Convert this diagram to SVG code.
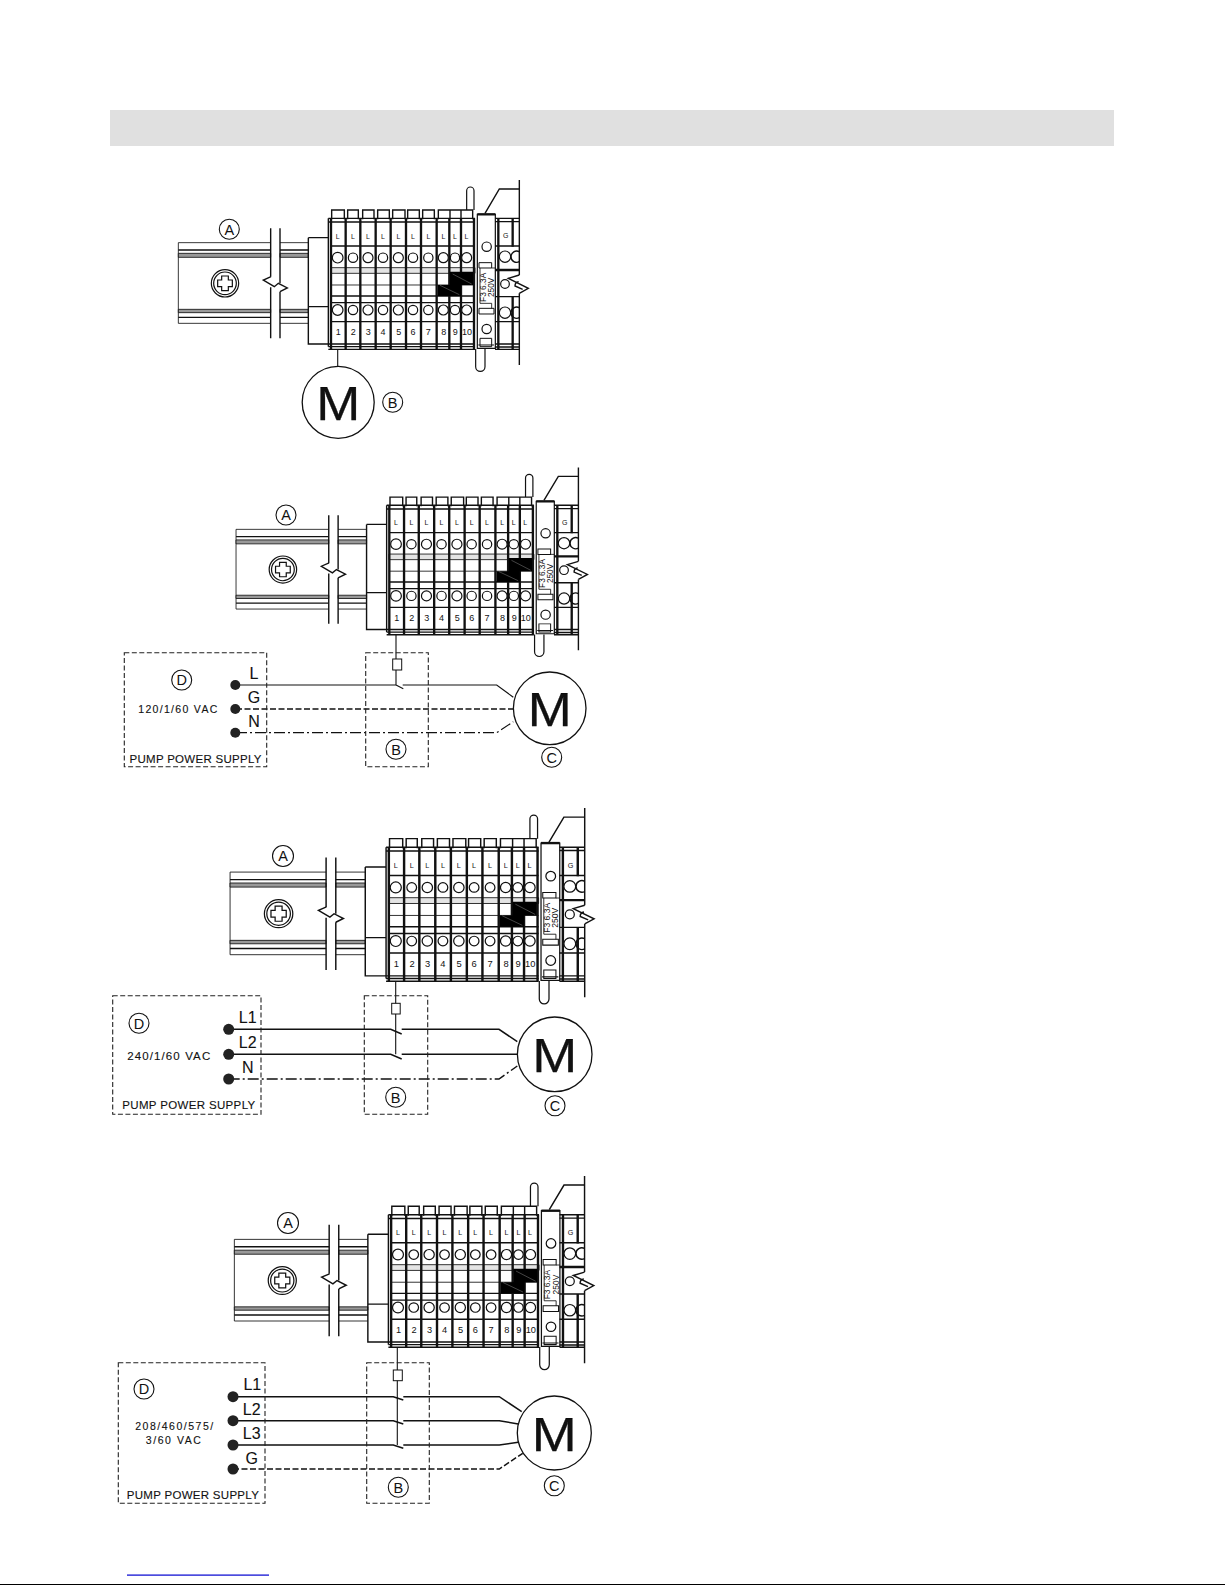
<svg xmlns="http://www.w3.org/2000/svg" xmlns:xlink="http://www.w3.org/1999/xlink" width="1225" height="1585" viewBox="0 0 1225 1585">
<style>
text{font-family:"Liberation Sans",Arial,sans-serif;fill:#111;text-anchor:middle}
.z{fill:none;stroke:#111}
.t{stroke-width:2.5}.m{stroke-width:4.2}.h{stroke-width:7}
.w{fill:#fff;stroke:#111;stroke-width:3.6}
.w2{fill:#fff;stroke:#111;stroke-width:3}
.wire{fill:none;stroke:#111;stroke-width:1.2}
.hv{stroke-width:1.5}
.dash{stroke-dasharray:6 2.5}
.dd{stroke-dasharray:11 3 2 3}
.box{fill:none;stroke:#222;stroke-width:1.1;stroke-dasharray:5 2.5}
.tm{fill:#222;stroke:none}
.mot{fill:#fff;stroke:#111;stroke-width:1.3}
.cl{fill:none;stroke:#111;stroke-width:1.1}
.lb{font-size:14.5px}
.ph{font-size:16px;stroke:#111;stroke-width:.1}
.v{font-size:10.5px;stroke:#111;stroke-width:.12}
.P{font-size:11.5px;stroke:#111;stroke-width:.12}
.M{font-size:48px;stroke:#000;stroke-width:.25}
</style>
<defs>
<g id="terminal-block" transform="translate(170,170) scale(.33333)">
<!-- rail -->
<path class="z t" d="M25,218V460M25,218H302M330,218H415M25,460H302M330,460H415"/>
<path class="z m" d="M25,240H302M330,240H415M25,442H302M330,442H415"/>
<path d="M25,250H302V262H25ZM330,250H415V262H330ZM25,418H302V428H25ZM330,418H415V428H330Z" fill="#999" stroke="#111" stroke-width="2.5"/>
<path class="z m" d="M302,175V320M302,352V505M330,175V340M330,365V505"/>
<path class="z m" d="M303,320L280,330L313,350L325,340L352,354L330,365"/>
<circle cx="165" cy="340" r="41" class="w"/><circle cx="165" cy="340" r="34" class="w"/>
<path class="w" d="M155,318H175V330H187V350H175V362H155V350H143V330H155Z"/>
<!-- end bracket -->
<path class="z m" d="M415,203H475M415,203V522H475M415,410H475"/>
<!-- top/bottom pins -->
<path class="w" d="M890,120V62A11,11 0 0 1 912,62V120"/>
<path class="w" d="M917,537V590A14,14 0 0 0 945,590V537"/>
<!-- body -->
<rect x="475" y="145" width="440" height="392" fill="#fff"/>
<path class="z m" d="M485,148V120H523V148M533,148V120H565V148M578,148V120H612V148M623,148V120H658V148M668,148V120H705V148M713,148V120H748V148M758,148V120H793V148M805,148V120H908V148M840,120V148M873,120V148"/>
<path class="z m" d="M475,145H915M475,156H915M482,228H915M482,378H915M482,398H915M482,455H915M475,522H915M475,530H915M475,538H915"/>
<path d="M482,293H915V310H482Z" fill="#e4e4e4" stroke="#111" stroke-width="2.5"/>
<path class="z t" d="M482,345H915"/>
<path class="z m" d="M475,145V530"/>
<path class="z h" d="M483,145V538M527,145V538M571,145V538M617,145V538M662,145V538M708,145V538M753,145V538M800,145V538M838,145V538M873,145V538M912,145V538"/>
<g class="w">
<circle cx="503" cy="263" r="16"/><circle cx="549" cy="263" r="14"/><circle cx="594" cy="263" r="15"/><circle cx="639" cy="263" r="14"/><circle cx="685" cy="263" r="15"/><circle cx="729" cy="263" r="14"/><circle cx="775" cy="263" r="14"/><circle cx="820" cy="263" r="15"/><circle cx="855" cy="263" r="14"/><circle cx="890" cy="263" r="15"/>
<circle cx="503" cy="420" r="16"/><circle cx="549" cy="420" r="14"/><circle cx="594" cy="420" r="15"/><circle cx="639" cy="420" r="14"/><circle cx="685" cy="420" r="15"/><circle cx="729" cy="420" r="14"/><circle cx="775" cy="420" r="14"/><circle cx="820" cy="420" r="15"/><circle cx="855" cy="420" r="14"/><circle cx="890" cy="420" r="15"/>
</g>
<!-- jumper -->
<path d="M840,305H910V345H873V378H803V345H840Z" fill="#000"/>
<path d="M848,312L905,342M810,346L868,374" stroke="#888" stroke-width="1.5" fill="none"/>
<g font-size="21">
<text x="503" y="206">L</text><text x="549" y="206">L</text><text x="594" y="206">L</text><text x="639" y="206">L</text><text x="685" y="206">L</text><text x="729" y="206">L</text><text x="775" y="206">L</text><text x="820" y="206">L</text><text x="855" y="206">L</text><text x="889" y="206">L</text><text x="1007" y="205">G</text>
</g>
<g font-size="27">
<text x="505" y="495">1</text><text x="550" y="495">2</text><text x="595" y="495">3</text><text x="639" y="495">4</text><text x="686" y="495">5</text><text x="729" y="495">6</text><text x="775" y="495">7</text><text x="821" y="495">8</text><text x="856" y="495">9</text><text x="891" y="495">10</text>
</g>
<!-- fuse module -->
<path class="z m" d="M945,130L988,57H1048"/>
<path class="w" d="M922,133H976V535H922Z"/>
<path class="z h" d="M922,133H976"/>
<circle cx="950" cy="230" r="14" class="w"/><circle cx="950" cy="477" r="14" class="w"/>
<path class="w2" d="M927,278H965V294H927ZM927,415H972V432H927Z"/>
<path class="z t" d="M930,294V400H965V415M965,294H976"/>
<text font-size="25" transform="translate(948,352) rotate(-90)">F3 6.3A</text>
<text font-size="25" transform="translate(972,352) rotate(-90)">250V</text>
<path class="w2" d="M930,505H965V530H930ZM925,525H972"/>
<!-- adjacent terminal -->
<path class="z m" d="M975,145H1048M975,155H1048M975,228H1048M975,380H1048M975,455H1048M975,522H1048M975,531H1048M975,538H1048"/>
<path class="z h" d="M975,300H1048M985,145V538M1028,145V230M1028,380V538"/>
<path class="z m" d="M1048,30V315M1048,370V585"/>
<circle cx="1005" cy="260" r="17" class="w"/><circle cx="1005" cy="428" r="17" class="w"/><circle cx="1005" cy="342" r="13" class="w"/>
<path class="z m" d="M1048,245A17,17 0 1 0 1048,275M1048,413A17,17 0 1 0 1048,443M1046,335A13,13 0 0 0 1035,348L1058,358"/>
<path class="z m" d="M1048,315L1015,325L1075,355L1048,370"/>
</g>
</defs>
<rect width="1225" height="1585" fill="#fff"/>
<rect id="header-band" x="110" y="110" width="1004" height="36" fill="#e0e0e0"/>
<rect id="footer-link" x="127" y="1574.5" width="142" height="1.2" fill="#0000d0"/>
<rect id="footer-rule" x="0" y="1584" width="1225" height="1.5" fill="#000"/>

<g id="connectors">
<path class="cl" d="M337.7,349V367"/>
<!-- panel 2 -->
<path class="cl" d="M396,634V685M396,685L403.3,688.7"/>
<path class="wire" d="M236,685H396M402.7,685H496.7L513.3,697.3"/>
<path class="wire hv dash" d="M236,709H513.3"/>
<path class="wire dd" d="M236,732.7H496.7L513.3,721.7"/>
<!-- panel 3 -->
<path class="cl" d="M395.7,981V1054.3"/>
<path class="wire hv" d="M228.7,1029.3H390.7L401.7,1034M401.7,1029.3H499L517.3,1041.7M228.7,1054.3H390.7L401.7,1059M401.7,1054.3H517.3"/>
<path class="wire hv dd" d="M228.7,1079H499L517.3,1066"/>
<!-- panel 4 -->
<path class="cl" d="M397.3,1346V1445"/>
<path class="wire hv" d="M233,1396.7H393.3L403.3,1400M403.3,1396.7H499.3L521.7,1411.7M233,1420.7H393.3L403.3,1424M403.3,1420.7H499.3L518.3,1424M233,1445H393.3L403.3,1448.3M403.3,1445H499.3L518.3,1442.3"/>
<path class="wire hv dash" d="M233,1469H499.3L522.7,1453.3"/>
</g>

<g id="panel-1">
<use href="#terminal-block" xlink:href="#terminal-block"/>
<g id="p1-motor"><circle class="mot" cx="338.2" cy="402.3" r="36"/><text class="M" x="338.2" y="419.5" textLength="44" lengthAdjust="spacingAndGlyphs">M</text></g>
<g id="p1-A"><circle class="cl" cx="229.3" cy="229.3" r="10"/><text class="lb" x="229.3" y="234.5">A</text></g>
<g id="p1-B"><circle class="cl" cx="392.7" cy="402.3" r="10"/><text class="lb" x="392.7" y="407.5">B</text></g>
</g>

<g id="panel-2">
<use href="#terminal-block" xlink:href="#terminal-block" transform="matrix(1.004 0 0 .988 57 289.6)"/>
<g id="p2-A"><circle class="cl" cx="286" cy="515" r="10"/><text class="lb" x="286" y="520.2">A</text></g>
<g id="p2-supply">
<rect class="box" x="124.3" y="652.7" width="142.4" height="114"/>
<circle class="tm" cx="235.3" cy="685" r="5"/><circle class="tm" cx="235.3" cy="709" r="5"/><circle class="tm" cx="235.3" cy="732.7" r="5"/>
<text class="ph" x="254" y="679">L</text><text class="ph" x="254" y="702.7">G</text><text class="ph" x="254" y="727.3">N</text>
<circle class="cl" cx="181.7" cy="680" r="10"/><text class="lb" x="181.7" y="685.2">D</text>
<text class="v" x="177.8" y="713.3" textLength="79">120/1/60 VAC</text>
<text class="P" x="195.5" y="762.7" textLength="132">PUMP POWER SUPPLY</text>
</g>
<g id="p2-switch">
<rect class="box" x="365.7" y="652.7" width="62.6" height="114"/>
<rect x="392.7" y="659" width="9" height="11" fill="#fff" stroke="#111"/>
<circle class="cl" cx="396" cy="749.3" r="10"/><text class="lb" x="396" y="754.5">B</text>
</g>
<g id="p2-motor"><circle class="mot" cx="549.7" cy="708.3" r="36.3"/><text class="M" x="549.7" y="725.5" textLength="44" lengthAdjust="spacingAndGlyphs">M</text>
<circle class="cl" cx="551.7" cy="757.3" r="10"/><text class="lb" x="551.7" y="762.5">C</text></g>
</g>

<g id="panel-3">
<use href="#terminal-block" xlink:href="#terminal-block" transform="matrix(1.04 0 0 1.024 44.6 623.6)"/>
<g id="p3-A"><circle class="cl" cx="283" cy="856" r="10.5"/><text class="lb" x="283" y="861.2">A</text></g>
<g id="p3-supply">
<rect class="box" x="112.7" y="995.7" width="148.3" height="118.6"/>
<circle class="tm" cx="228.7" cy="1029.3" r="5.5"/><circle class="tm" cx="228.7" cy="1054.3" r="5.5"/><circle class="tm" cx="228.7" cy="1079" r="5.5"/>
<text class="ph" x="247.7" y="1023.3">L1</text><text class="ph" x="247.7" y="1048.3">L2</text><text class="ph" x="247.7" y="1072.7">N</text>
<circle class="cl" cx="139" cy="1023.3" r="10"/><text class="lb" x="139" y="1028.5">D</text>
<text class="P" x="168.7" y="1059.7" textLength="83">240/1/60 VAC</text>
<text class="P" x="188.7" y="1109" textLength="133">PUMP POWER SUPPLY</text>
</g>
<g id="p3-switch">
<rect class="box" x="364.3" y="995.7" width="63.4" height="118.6"/>
<rect x="391.7" y="1003.3" width="8.5" height="10.7" fill="#fff" stroke="#111"/>
<circle class="cl" cx="395.7" cy="1097.3" r="10"/><text class="lb" x="395.7" y="1102.5">B</text>
</g>
<g id="p3-motor"><circle class="mot" cx="554.7" cy="1054.3" r="37.3"/><text class="M" x="554.7" y="1072" textLength="45" lengthAdjust="spacingAndGlyphs">M</text>
<circle class="cl" cx="555" cy="1105.7" r="10"/><text class="lb" x="555" y="1110.9">C</text></g>
</g>

<g id="panel-4">
<use href="#terminal-block" xlink:href="#terminal-block" transform="matrix(1.027 0 0 1.012 51.2 993.8)"/>
<g id="p4-A"><circle class="cl" cx="288" cy="1223" r="10.5"/><text class="lb" x="288" y="1228.2">A</text></g>
<g id="p4-supply">
<rect class="box" x="118.3" y="1362.7" width="146.7" height="140.6"/>
<circle class="tm" cx="233" cy="1396.7" r="5.5"/><circle class="tm" cx="233" cy="1420.7" r="5.5"/><circle class="tm" cx="233" cy="1445" r="5.5"/><circle class="tm" cx="233" cy="1469" r="5.5"/>
<text class="ph" x="252.3" y="1390">L1</text><text class="ph" x="251.7" y="1414.7">L2</text><text class="ph" x="251.7" y="1439.3">L3</text><text class="ph" x="251.7" y="1464">G</text>
<circle class="cl" cx="144" cy="1389" r="10"/><text class="lb" x="144" y="1394.2">D</text>
<text class="v" x="174.2" y="1430" textLength="78">208/460/575/</text>
<text class="v" x="173.3" y="1444.3" textLength="55">3/60 VAC</text>
<text class="P" x="192.8" y="1499" textLength="132">PUMP POWER SUPPLY</text>
</g>
<g id="p4-switch">
<rect class="box" x="366.7" y="1362.7" width="62.6" height="140.6"/>
<rect x="393.3" y="1370" width="9" height="10.7" fill="#fff" stroke="#111"/>
<circle class="cl" cx="398.3" cy="1487.3" r="10"/><text class="lb" x="398.3" y="1492.5">B</text>
</g>
<g id="p4-motor"><circle class="mot" cx="554.3" cy="1433" r="37"/><text class="M" x="554.3" y="1450.5" textLength="45" lengthAdjust="spacingAndGlyphs">M</text>
<circle class="cl" cx="554.3" cy="1485.7" r="10"/><text class="lb" x="554.3" y="1490.9">C</text></g>
</g>
</svg>
